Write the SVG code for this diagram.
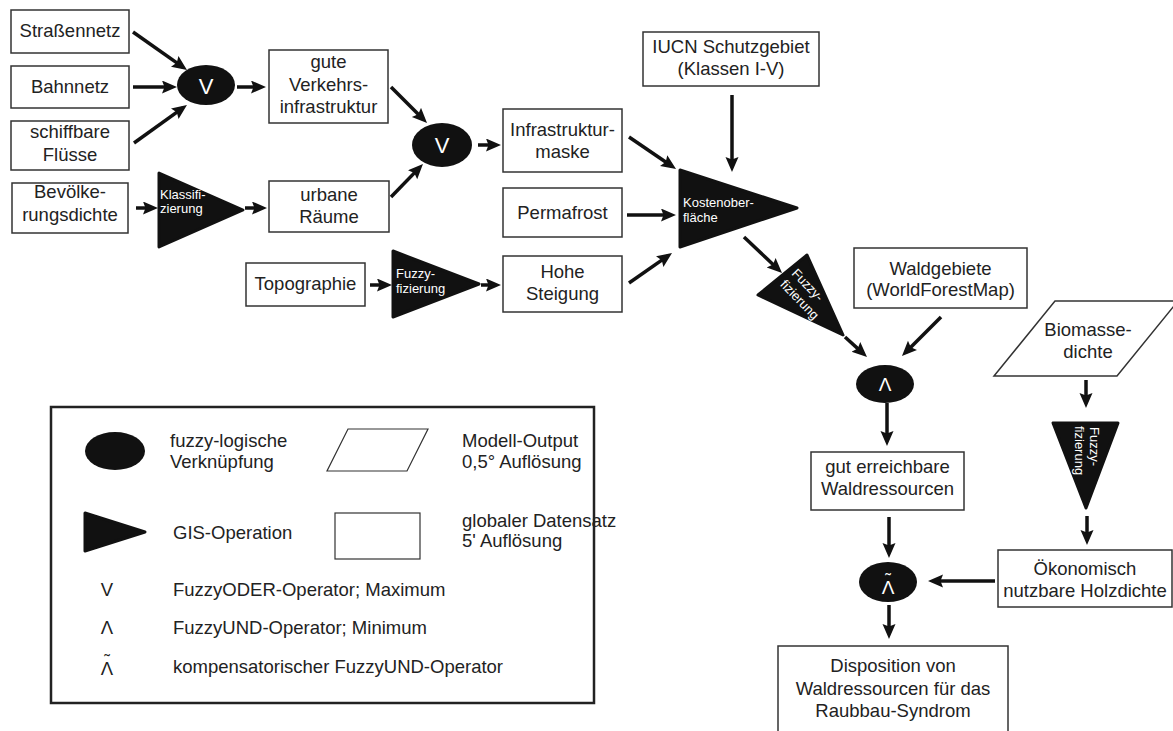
<svg xmlns="http://www.w3.org/2000/svg" width="1173" height="731" viewBox="0 0 1173 731">
<style>
text{font-family:"Liberation Sans",Arial,Helvetica,sans-serif;fill:#222}
.t{font-size:18.5px;text-anchor:middle}
.l{font-size:18.5px}
.s{font-size:13px;fill:#fff}
.op{font-size:22px;fill:#fff;text-anchor:middle}
.op2{font-size:19px;fill:#fff;text-anchor:middle}
.box{fill:#fff;stroke:#333;stroke-width:1.5}
.tri{fill:#111;stroke:#111;stroke-width:3;stroke-linejoin:round}
.ell{fill:#111}
.c line{stroke:#111;stroke-width:3.5;marker-end:url(#ah)}
</style>
<defs>
<marker id="ah" markerUnits="userSpaceOnUse" markerWidth="16" markerHeight="14" refX="10" refY="6.5" orient="auto">
<path d="M0,0 L15,6.5 L0,13 L2.5,6.5 Z" fill="#111"/>
</marker>
</defs>
<rect width="1173" height="731" fill="#fff"/>

<g id="n-strassennetz"><rect class="box" x="11" y="10" width="118" height="43"/><text class="t" x="70" y="37">Straßennetz</text></g>
<g id="n-bahnnetz"><rect class="box" x="11" y="66" width="118" height="42"/><text class="t" x="70" y="93">Bahnnetz</text></g>
<g id="n-fluesse"><rect class="box" x="11" y="121" width="118" height="49"/><text class="t" x="70" y="138">schiffbare</text><text class="t" x="70" y="161">Flüsse</text></g>
<g id="n-bevoelkerung"><rect class="box" x="12" y="183" width="116" height="50"/><text class="t" x="70" y="198">Bevölke-</text><text class="t" x="70" y="221">rungsdichte</text></g>
<g id="n-or1"><ellipse class="ell" cx="206" cy="85" rx="29" ry="20"/><text class="op" x="206" y="94">V</text></g>
<g id="n-gute"><rect class="box" x="269" y="50" width="119" height="73"/><text class="t" x="328.5" y="68">gute</text><text class="t" x="328.5" y="91">Verkehrs-</text><text class="t" x="328.5" y="113">infrastruktur</text></g>
<g id="n-klass"><polygon class="tri" points="159,173 243,210 159,247"/><text class="s" x="160" y="199">Klassifi-</text><text class="s" x="160" y="213">zierung</text></g>
<g id="n-urbane"><rect class="box" x="269" y="181" width="120" height="51"/><text class="t" x="329" y="201">urbane</text><text class="t" x="329" y="223">Räume</text></g>
<g id="n-or2"><ellipse class="ell" cx="442" cy="145" rx="30" ry="22"/><text class="op" x="442" y="153">V</text></g>
<g id="n-topo"><rect class="box" x="246" y="263" width="119" height="43"/><text class="t" x="305.5" y="290">Topographie</text></g>
<g id="n-fuzzy1"><polygon class="tri" points="393,251 479,284 393,317"/><text class="s" x="396" y="278">Fuzzy-</text><text class="s" x="396" y="293">fizierung</text></g>
<g id="n-infra"><rect class="box" x="503" y="109" width="119" height="63"/><text class="t" x="562.5" y="136">Infrastruktur-</text><text class="t" x="562.5" y="158">maske</text></g>
<g id="n-perma"><rect class="box" x="503" y="188" width="119" height="49"/><text class="t" x="562.5" y="219">Permafrost</text></g>
<g id="n-hohe"><rect class="box" x="503" y="256" width="119" height="56"/><text class="t" x="562.5" y="278">Hohe</text><text class="t" x="562.5" y="300">Steigung</text></g>
<g id="n-iucn"><rect class="box" x="643" y="32" width="176" height="54"/><text class="t" x="731" y="53">IUCN Schutzgebiet</text><text class="t" x="731" y="75">(Klassen I-V)</text></g>
<g id="n-kosten"><polygon class="tri" points="680,170 797,208 680,247"/><text class="s" x="683" y="207">Kostenober-</text><text class="s" x="683" y="222">fläche</text></g>
<g id="n-fuzzy2"><polygon class="tri" points="807,255 843,335 758,295"/><g transform="translate(791,274) rotate(46)"><text class="s" x="0" y="0">Fuzzy-</text><text class="s" x="0" y="16">fizierung</text></g></g>
<g id="n-wald"><rect class="box" x="854" y="248" width="173" height="60"/><text class="t" x="940.5" y="275">Waldgebiete</text><text class="t" x="940.5" y="296">(WorldForestMap)</text></g>
<g id="n-and1"><ellipse class="ell" cx="885" cy="384" rx="29" ry="19"/><text class="op2" x="885" y="391">Λ</text></g>
<g id="n-biomasse"><polygon class="box" points="1055,301 1178,301 1117,376 994,376"/><text class="t" x="1088" y="336">Biomasse-</text><text class="t" x="1088" y="358">dichte</text></g>
<g id="n-fuzzy3"><polygon class="tri" points="1053,423 1118,423 1086,508"/><g transform="translate(1090,427) rotate(90)"><text class="s" x="0" y="0">Fuzzy-</text><text class="s" x="-1" y="15">fizierung</text></g></g>
<g id="n-gut"><rect class="box" x="811" y="452" width="153" height="58"/><text class="t" x="887.5" y="473">gut erreichbare</text><text class="t" x="887.5" y="495">Waldressourcen</text></g>
<g id="n-oekon"><rect class="box" x="998" y="550" width="174" height="57"/><text class="t" x="1085" y="575">Ökonomisch</text><text class="t" x="1085" y="597">nutzbare Holzdichte</text></g>
<g id="n-and2"><ellipse class="ell" cx="888" cy="582" rx="29" ry="20"/><text class="op2"><tspan x="888" y="594">Λ</tspan><tspan x="888" y="585" style="font-size:17px">˜</tspan></text></g>
<g id="n-dispo"><rect class="box" x="778" y="646" width="230" height="95"/><text class="t" x="893" y="672">Disposition von</text><text class="t" x="893" y="695">Waldressourcen für das</text><text class="t" x="893" y="717">Raubbau-Syndrom</text></g>

<g id="connectors" class="c">
<line x1="133" y1="32" x2="182.9" y2="67.1"/>
<line x1="133" y1="87" x2="172" y2="87"/>
<line x1="134" y1="143" x2="182.9" y2="107.9"/>
<line x1="237" y1="87" x2="261" y2="87"/>
<line x1="391" y1="87" x2="423.5" y2="119.5"/>
<line x1="391" y1="197" x2="419.5" y2="167.6"/>
<line x1="478" y1="145" x2="496" y2="145"/>
<line x1="136" y1="208" x2="153" y2="208"/>
<line x1="245" y1="208" x2="262" y2="208"/>
<line x1="370" y1="285" x2="387" y2="285"/>
<line x1="481" y1="285" x2="496" y2="285"/>
<line x1="629" y1="137" x2="671.9" y2="166.2"/>
<line x1="627" y1="215" x2="671" y2="215"/>
<line x1="629" y1="283" x2="667.9" y2="255.9"/>
<line x1="732" y1="95" x2="732" y2="167"/>
<line x1="744" y1="237" x2="778.4" y2="269.6"/>
<line x1="845" y1="337" x2="863.3" y2="353.6"/>
<line x1="941" y1="317" x2="905.5" y2="352.5"/>
<line x1="887" y1="403" x2="887" y2="441"/>
<line x1="889" y1="517" x2="889" y2="553"/>
<line x1="995" y1="581" x2="933" y2="581"/>
<line x1="889" y1="605" x2="889" y2="634"/>
<line x1="1086" y1="380" x2="1086" y2="403"/>
<line x1="1087" y1="516" x2="1087" y2="540"/>
</g>

<g id="legend">
<rect x="51" y="407" width="543" height="296" fill="none" stroke="#222" stroke-width="2.5"/>
<ellipse class="ell" cx="115" cy="451" rx="30" ry="19"/>
<text class="l" x="170" y="447">fuzzy-logische</text>
<text class="l" x="170" y="468">Verknüpfung</text>
<polygon points="348,429 428,429 407,471 327,471" fill="#fff" stroke="#333" stroke-width="1.2"/>
<text class="l" x="462" y="447">Modell-Output</text>
<text class="l" x="462" y="468">0,5° Auflösung</text>
<polygon class="tri" points="85,513 145,532 85,551"/>
<text class="l" x="173" y="539">GIS-Operation</text>
<rect x="335" y="513" width="85" height="46" fill="#fff" stroke="#333" stroke-width="1.2"/>
<text class="l" x="462" y="527">globaler Datensatz</text>
<text class="l" x="462" y="547">5' Auflösung</text>
<text class="t" x="107" y="596">V</text>
<text class="l" x="173" y="596">FuzzyODER-Operator; Maximum</text>
<text class="t" x="107" y="634">Λ</text>
<text class="l" x="173" y="634">FuzzyUND-Operator; Minimum</text>
<text class="t"><tspan x="107" y="675">Λ</tspan><tspan x="107" y="666" style="font-size:17px">˜</tspan></text>
<text class="l" x="173" y="673">kompensatorischer FuzzyUND-Operator</text>
</g>
</svg>
